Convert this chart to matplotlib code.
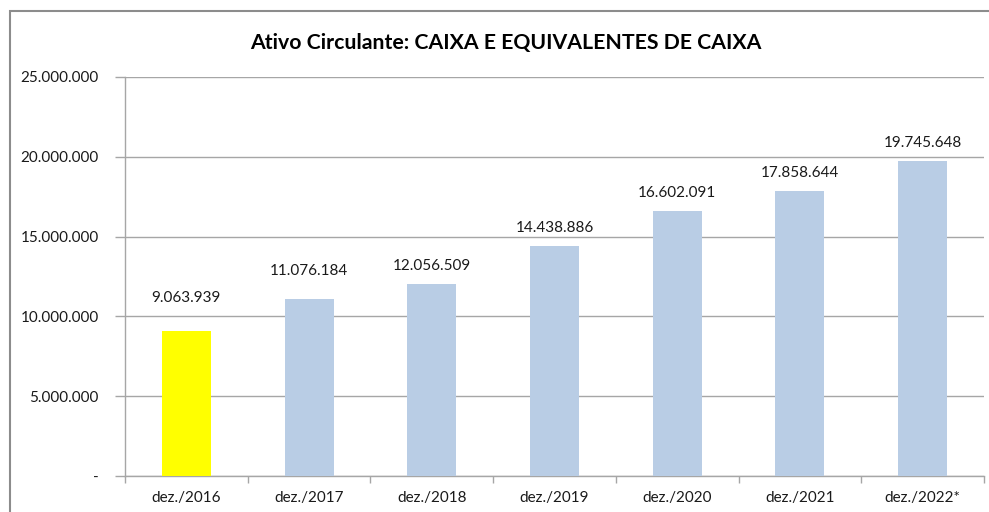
import matplotlib
matplotlib.use("Agg")
import matplotlib.pyplot as plt
from matplotlib.patches import Rectangle
import numpy as np

plt.rcParams["font.family"] = ["Lato", "DejaVu Sans"]

categories = ["dez./2016", "dez./2017", "dez./2018", "dez./2019",
              "dez./2020", "dez./2021", "dez./2022*"]
values = [9063939, 11076184, 12056509, 14438886, 16602091, 17858644, 19745648]
bar_colors = ["#FFFF00"] + ["#B9CDE5"] * 6
# label distance above bar top, in pixels (placed by hand in the original)
label_gap_px = [33, 28, 18, 18, 18, 18, 18]

yticks = [0, 5000000, 10000000, 15000000, 20000000, 25000000]


def fmt(v):
    if v == 0:
        return "-"
    return "{:,.0f}".format(v).replace(",", ".")


W, H = 989, 512
fig = plt.figure(figsize=(W / 100, H / 100), dpi=100)
fig.patch.set_facecolor("white")

# chart outer border (Excel chart area, cut off at right and bottom)
fig.patches.append(Rectangle((10 / W, -0.1), 1.2, 1.1 - 11 / H,
                             transform=fig.transFigure, fill=False,
                             edgecolor="#8C8C8C", linewidth=1.5))

ax = fig.add_axes([125 / W, 1 - 476 / H, (984 - 125) / W, (476 - 77) / H])
x = np.arange(len(categories))
ax.bar(x, values, width=0.4, color=bar_colors, zorder=3)

for xi, v, gap in zip(x, values, label_gap_px):
    ax.annotate(fmt(v), (xi, v), xytext=(0, gap * 0.72), textcoords="offset points",
                ha="center", va="center", fontsize=11, color="#1a1a1a")

ax.set_xlim(-0.5, len(categories) - 0.5)
ax.set_ylim(0, 25000000)
ax.set_yticks(yticks)
ax.set_yticklabels([fmt(t) for t in yticks], fontsize=11, color="#1a1a1a")
ax.yaxis.grid(True, color="#A6A6A6", linewidth=1, zorder=0)
ax.tick_params(axis="y", length=7, width=1, color="#A6A6A6", pad=12)

ax.set_xticks(x)
ax.set_xticklabels(categories, fontsize=11, color="#1a1a1a")
ax.set_xticks(np.arange(len(categories) + 1) - 0.5, minor=True)
ax.tick_params(axis="x", which="major", length=0, pad=11)
ax.tick_params(axis="x", which="minor", length=5, width=1, color="#A6A6A6")

for s in ["top", "right"]:
    ax.spines[s].set_visible(False)
for s in ["left", "bottom"]:
    ax.spines[s].set_color("#A6A6A6")
    ax.spines[s].set_linewidth(1)

fig.text(506 / W, 1 - 43 / H, "Ativo Circulante: CAIXA E EQUIVALENTES DE CAIXA",
         ha="center", va="center", fontsize=15.3, fontweight="bold", color="black")

fig.savefig("out.png", dpi=100)
